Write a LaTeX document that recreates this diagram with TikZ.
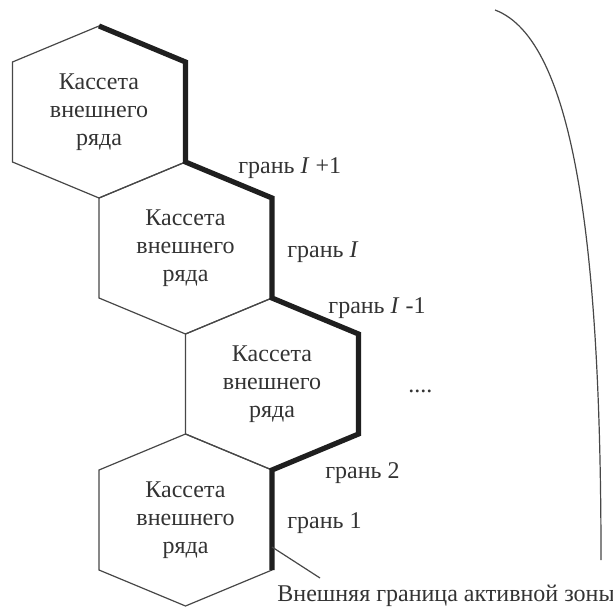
\documentclass[tikz,border=0pt]{standalone}
\usepackage{fontspec}
\setmainfont{Liberation Serif}
\usetikzlibrary{calc}
\begin{document}
\begin{tikzpicture}[x=0.5pt,y=-0.5pt,
  thin edge/.style={draw=black!72, line width=0.6pt},
  bold edge/.style={draw=black!88, line width=2.6pt, line join=miter},
  cell text/.style={align=center, text=black!80, font=\fontsize{12}{14}\selectfont},
  lbl/.style={anchor=base west, inner sep=0pt, text=black!80, font=\fontsize{12}{14}\selectfont},
  hexcell/.pic={
    \coordinate (-t) at (0,-86);
    \coordinate (-ur) at (86.5,-50);
    \coordinate (-lr) at (86.5,50);
    \coordinate (-b) at (0,86);
    \coordinate (-ll) at (-86.5,50);
    \coordinate (-ul) at (-86.5,-50);
    \draw[thin edge] (-t) -- (-ur) -- (-lr) -- (-b) -- (-ll) -- (-ul) -- cycle;
    \node[cell text] (-txt) at (0,0) {Кассета\\внешнего\\ряда};
  }]
\useasboundingbox (0,0) rectangle (613,608);
\pic (h1) at (99,112) {hexcell};
\pic (h2) at (185.5,248) {hexcell};
\pic (h3) at (272,384) {hexcell};
\pic (h4) at (185.5,520) {hexcell};
\draw[bold edge] (h1-t) -- (h1-ur) -- (h1-lr) -- (h2-ur) -- (h2-lr) -- (h3-ur) -- (h3-lr) -- (h3-b) -- (h4-lr);
\node[lbl] (l1) at (238,174) {грань \textit{I} +1};
\node[lbl] (l2) at (287,257) {грань \textit{I}};
\node[lbl] (l3) at (328,313) {грань \textit{I} -1};
\node[lbl] (dots) at (408,392) {....};
\node[lbl] (l4) at (325,478) {грань 2};
\node[lbl] (l5) at (287,528) {грань 1};
\node[lbl] (zone) at (277,601) {Внешняя граница активной зоны};
\coordinate (pstart) at ($(h4-ur)!0.77!(h4-lr)$);
\coordinate (pend) at (320,578);
\draw[thin edge] (pstart) -- (pend);
\draw[thin edge] (495,10) .. controls (575,40) and (601,250) .. (601,560);
\end{tikzpicture}
\end{document}
